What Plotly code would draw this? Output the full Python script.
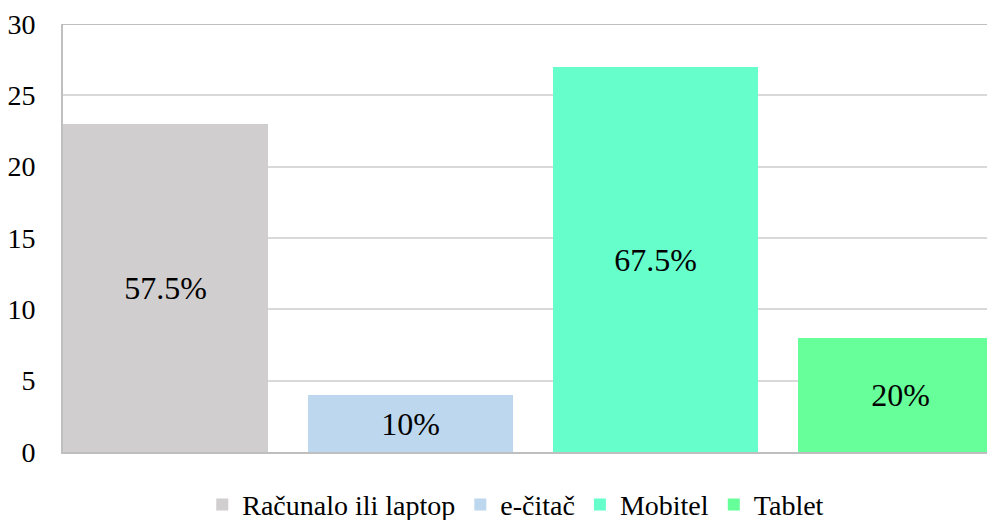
import plotly.graph_objects as go

categories = ["Računalo ili laptop", "e-čitač", "Mobitel", "Tablet"]
values = [23, 4, 27, 8]
labels = ["57.5%", "10%", "67.5%", "20%"]
colors = ["#D0CECE", "#BDD7EE", "#66FFCC", "#66FF99"]

FONT = "Liberation Serif, Times New Roman, Times, DejaVu Serif, serif"

fig = go.Figure()
for i, (c, v, t, col) in enumerate(zip(categories, values, labels, colors)):
    fig.add_trace(go.Bar(
        x=[i], y=[v], name=c, text=[t], width=0.837,
        marker=dict(color=col, line=dict(width=0)),
        textposition="inside", insidetextanchor="middle",
        textfont=dict(family=FONT, size=32, color="black"),
        hoverinfo="skip",
    ))

fig.update_layout(
    width=987, height=520,
    margin=dict(l=63, r=0, t=24, b=68, autoexpand=False),
    paper_bgcolor="white", plot_bgcolor="white",
    font=dict(family=FONT, size=28, color="black"),
    showlegend=True,
    legend=dict(orientation="h", x=0.49, xanchor="center", y=-0.065, yanchor="top",
                font=dict(family=FONT, size=28), itemwidth=30,
                tracegroupgap=0, valign="middle"),
    bargap=0,
)
fig.update_xaxes(range=[-0.418, 3.353], showticklabels=False, showgrid=False,
                 zeroline=False, showline=True, linecolor="#BFBFBF", linewidth=2,
                 ticks="")
fig.update_yaxes(range=[0, 30], dtick=5, showgrid=True, gridcolor="#D9D9D9", gridwidth=1.5,
                 zeroline=False, showline=True, linecolor="#BFBFBF", linewidth=2,
                 ticks="", ticklabelstandoff=20, tickfont=dict(family=FONT, size=28))
fig.add_shape(type="line", xref="paper", yref="y", x0=0, x1=1, y0=30, y1=30,
              line=dict(color="#BFBFBF", width=2), layer="above")

fig.write_html("out.html", config={"displayModeBar": False},
               post_script="document.body.style.margin='0';document.body.style.overflow='hidden';")
